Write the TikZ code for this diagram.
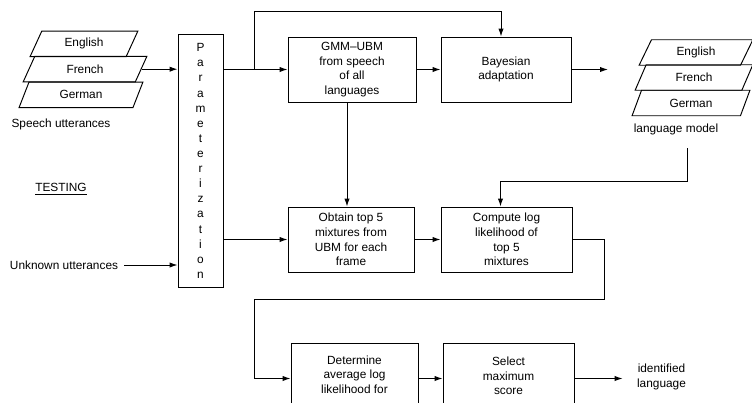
\documentclass[tikz,border=0pt]{standalone}
\usepackage{fontspec}
\setmainfont{Liberation Sans}
\usetikzlibrary{positioning}
\usetikzlibrary{shapes.geometric}
\usetikzlibrary{arrows.meta}

\begin{document}
\begin{tikzpicture}[x=0.02cm, y=-0.02cm, line width=0.55pt,
    every node/.style={font=\fontsize{6.75}{8.3}\selectfont},
    block/.style={draw, rectangle, align=center, inner sep=0pt, minimum height=1.3cm},
    lang/.style={draw, trapezium, trapezium left angle=64, trapezium right angle=116, trapezium stretches=true, minimum height=0.51cm, inner sep=0pt},
    arr/.style={-{Latex[length=4.5pt, width=3pt]}}]
    \clip (0,0) rectangle (752,403);

    % training speech
    \node[lang, minimum width=2.16cm] (en1) at (84,43.8) {English};
    \node[lang, minimum width=2.48cm] (fr1) at (85,69.2) {French};
    \node[lang, minimum width=2.48cm] (ge1) at (81,94.8) {German};
    \node (speech) at (61,124) {Speech utterances};

    % testing side
    \node (testing) at (61,189) {\underline{TESTING}};
    \node (unknown) at (64,265) {Unknown utterances};

    % parameterization
    \node[block, minimum width=0.9cm, minimum height=5.08cm, font=\fontsize{6.75}{8.6}\selectfont] (param) at (200.5,161) {P\\a\\r\\a\\m\\e\\t\\e\\r\\i\\z\\a\\t\\i\\o\\n};

    % training blocks
    \node[block, minimum width=2.56cm] (gmm) at (352,69.5) {GMM--UBM\\from speech\\of all\\languages};
    \node[block, minimum width=2.6cm] (bayes) at (506,69.5) {Bayesian\\adaptation};

    % language models
    \node[lang, minimum width=2.28cm] (en2) at (696,52.5) {English};
    \node[lang, minimum width=2.36cm] (fr2) at (694,77.5) {French};
    \node[lang, minimum width=2.36cm] (ge2) at (691,103) {German};
    \node (lmodel) at (676,129) {language model};

    % testing blocks
    \node[block, minimum width=2.52cm] (obtain) at (351,239.5) {Obtain top 5\\mixtures from\\UBM for each\\frame};
    \node[block, minimum width=2.62cm] (compute) at (506.5,239.5) {Compute log\\likelihood of\\top 5\\mixtures};
    \node[block, minimum width=2.54cm, minimum height=1.42cm] (determine) at (354.5,378.5) {Determine\\average log\\likelihood for\\[-6pt]\strut};
    \node[block, minimum width=2.62cm, minimum height=1.42cm] (select) at (508.5,378.5) {Select\\maximum\\score\\[-8pt]\strut};
    \node[align=center, inner xsep=0.28cm] (ident) at (661.5,377) {identified\\language};

    % bends
    \coordinate (split) at (254,69.5);
    \coordinate (top) at (254,11);
    \coordinate (lmend) at (608,69.5);
    \coordinate (lmout) at (687,148);
    \coordinate (lmbend) at (687,181);
    \coordinate (loopr) at (604,299);
    \coordinate (loopl) at (254,299);

    % training path
    \path[draw, arr] (fr1.east) -- (fr1.east -| param.west);
    \path[draw, arr] (param.east |- gmm.west) -- (gmm.west);
    \path[draw, arr] (split) -- (top) -| ([xshift=-0.1cm]bayes.north);
    \path[draw, arr] (gmm.east) -- (bayes.west);
    \path[draw, arr] (bayes.east) -- (lmend);

    % testing path
    \path[draw, arr] (unknown.east) -- (unknown.east -| param.west);
    \path[draw, arr] ([xshift=-0.1cm]gmm.south) -- ([xshift=-0.1cm]gmm.south |- obtain.north);
    \path[draw, arr] (lmout) -- (lmbend) -| ([xshift=-0.12cm]compute.north);
    \path[draw, arr] (param.east |- obtain.west) -- (obtain.west);
    \path[draw, arr] (obtain.east) -- (compute.west);
    \path[draw, arr] (compute.east) -| (loopr) -- (loopl) |- (determine.west);
    \path[draw, arr] (determine.east) -- (select.west);
    \path[draw, arr] (select.east) -- (select.east -| ident.west);
\end{tikzpicture}
\end{document}
